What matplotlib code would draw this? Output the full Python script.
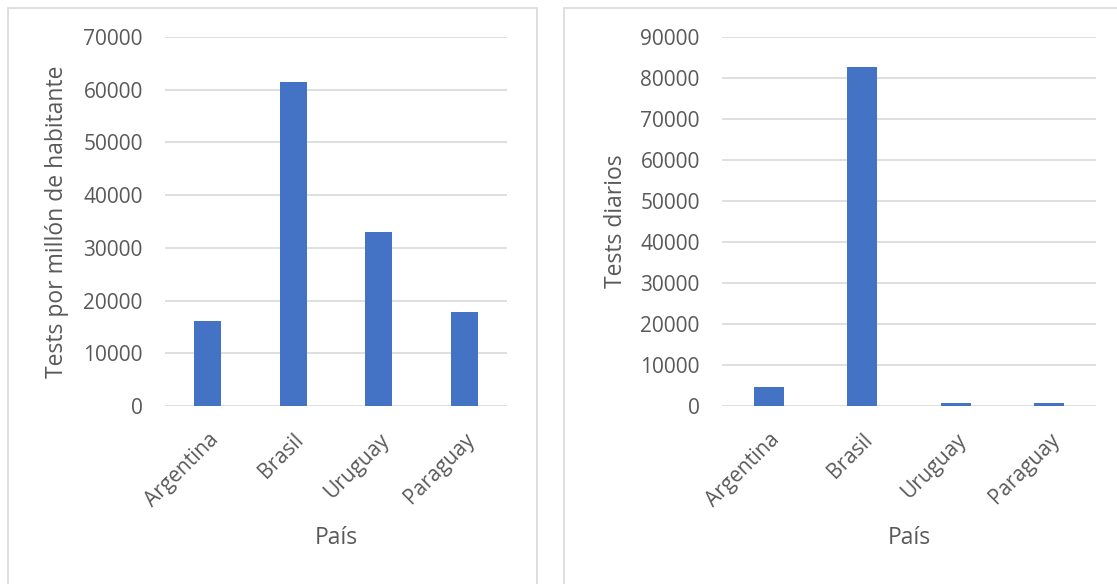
import matplotlib.pyplot as plt
from matplotlib.patches import Rectangle
from matplotlib.transforms import ScaledTranslation
import numpy as np

paises = ["Argentina", "Brasil", "Uruguay", "Paraguay"]
tests_por_millon = [16200, 61500, 33100, 17900]
tests_diarios = [4700, 82800, 800, 800]

plt.rcParams["font.family"] = ["Open Sans", "DejaVu Sans"]
gris = "#595959"
azul = "#4472c4"

W, H = 1117, 584
fig = plt.figure(figsize=(W / 100, H / 100), dpi=100)

# panel frames like the Excel chart areas
for x0, x1 in [(8, 537), (564, 1125)]:
    fig.patches.append(Rectangle((x0 / W, -0.05), (x1 - x0) / W, (H - 8) / H + 0.05,
                                 transform=fig.transFigure, fill=False,
                                 edgecolor="#d9d9d9", linewidth=1.2))

paneles = [
    (tests_por_millon, "Tests por millón de habitante", 70000, 165, 507, -0.28),
    (tests_diarios, "Tests diarios", 90000, 722, 1096, -0.25),
]

for valores, ylabel, ymax, px0, px1, lx in paneles:
    ax = fig.add_axes([px0 / W, (H - 406) / H, (px1 - px0) / W, 369 / H])
    x = np.arange(len(paises))
    ax.bar(x, valores, width=0.32, color=azul, zorder=3)
    ax.set_xlim(-0.5, len(paises) - 0.5)
    ax.set_ylim(0, ymax)
    ax.set_yticks(np.arange(0, ymax + 1, 10000))
    ax.set_xticks(x)
    ax.set_xticklabels(paises, rotation=45, ha="right", rotation_mode="anchor")
    off = ScaledTranslation(-5 / 100, 0, fig.dpi_scale_trans)
    for t in ax.get_xticklabels():
        t.set_transform(t.get_transform() + off)
    ax.grid(axis="y", color="#d9d9d9", linewidth=1.2, zorder=0)
    for s in ax.spines.values():
        s.set_visible(False)
    ax.tick_params(length=0, colors=gris, labelsize=15)
    ax.tick_params(axis="y", pad=16)
    ax.tick_params(axis="x", pad=17)
    ax.set_ylabel(ylabel, color=gris, fontsize=16.5)
    ax.yaxis.set_label_coords(lx, 0.5)
    ax.set_xlabel("País", color=gris, fontsize=16.5)
    ax.xaxis.set_label_coords(0.5, -0.325)

fig.savefig("out.png", dpi=100)
plt.close()
